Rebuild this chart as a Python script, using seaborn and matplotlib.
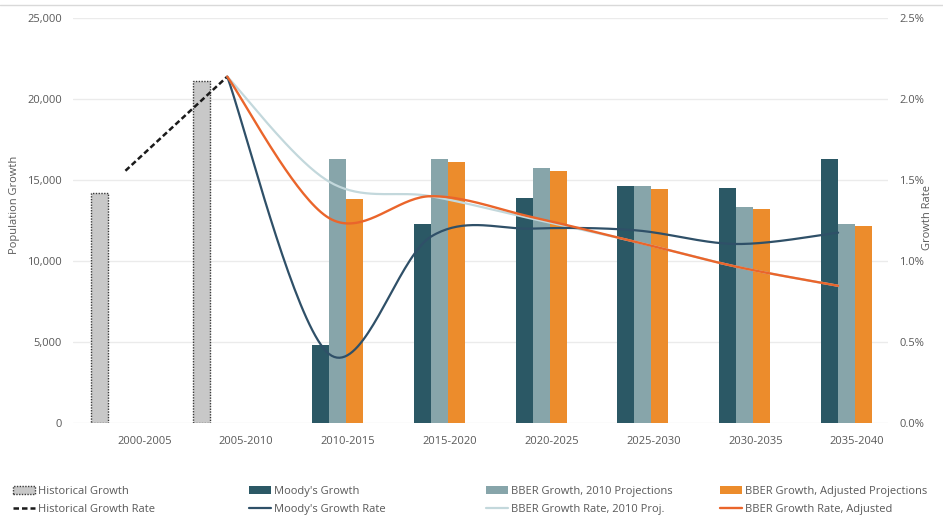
import numpy as np
import pandas as pd
import matplotlib
matplotlib.use("Agg")
import matplotlib.pyplot as plt
import matplotlib.transforms as mtransforms
from matplotlib.patches import Patch
from matplotlib.lines import Line2D
from matplotlib.ticker import FuncFormatter, MultipleLocator
import seaborn as sns

# ---------------- data ----------------
categories = ["2000-2005", "2005-2010", "2010-2015", "2015-2020",
              "2020-2025", "2025-2030", "2030-2035", "2035-2040"]
nan = np.nan
hist_growth = [14200, 21100, nan, nan, nan, nan, nan, nan]
moody_growth = [nan, nan, 4800, 12260, 13900, 14630, 14490, 16280]
bber2010_growth = [nan, nan, 16300, 16300, 15720, 14630, 13330, 12280]
bberadj_growth = [nan, nan, 13800, 16130, 15560, 14440, 13190, 12160]

hist_rate = [1.557, 2.138, nan, nan, nan, nan, nan, nan]
moody_rate = [nan, 2.138, 0.426, 1.15, 1.20, 1.19, 1.105, 1.175]
bber2010_rate = [nan, 2.138, 1.49, 1.40, 1.26, 1.12, 0.965, 0.847]
bberadj_rate = [nan, 2.138, 1.265, 1.40, 1.27, 1.12, 0.965, 0.847]

bar_series = ["Historical Growth", "Moody's Growth",
              "BBER Growth, 2010 Projections", "BBER Growth, Adjusted Projections"]
line_series = ["Historical Growth Rate", "Moody's Growth Rate",
               "BBER Growth Rate, 2010 Proj.", "BBER Growth Rate, Adjusted"]

# ---------------- styles ----------------
C_HIST = "#C8C8C8"
C_MOODY = "#2B5865"
C_BBER = "#87A5AA"
C_ADJ = "#EC8C2C"
L_MOODY = "#2F5068"
L_BBER = "#C3D8DC"
L_ADJ = "#EA652B"
TXT = "#595959"
GRID = "#EBEBEB"

sns.set_theme(style="white")
plt.rcParams["font.family"] = ["Open Sans", "DejaVu Sans"]

W, H = 943, 519
fig = plt.figure(figsize=(W / 100, H / 100), dpi=100)
L, R, T, B = 73, 888, 18, 423
ax = fig.add_axes([L / W, 1 - B / H, (R - L) / W, (B - T) / H])

# bars via seaborn
rows = []
for name, vals in zip(bar_series, [hist_growth, moody_growth, bber2010_growth, bberadj_growth]):
    for c, v in zip(categories, vals):
        if not np.isnan(v):
            rows.append({"Period": c, "Series": name, "Growth": v})
df = pd.DataFrame(rows)
palette = dict(zip(bar_series, [C_HIST, C_MOODY, C_BBER, C_ADJ]))
sns.barplot(data=df, x="Period", y="Growth", hue="Series", order=categories,
            hue_order=bar_series, palette=palette, width=0.668, dodge=True,
            errorbar=None, saturation=1, linewidth=0, legend=False, ax=ax)

# style historical bars
for p in ax.containers[0]:
    p.set_edgecolor("#3A3A3A")
    p.set_linestyle((0, (1, 1)))
    p.set_linewidth(1.0)

ax.set_xlim(-0.515, 7.49)
ax.set_ylim(0, 25000)
ax.yaxis.set_major_locator(MultipleLocator(5000))
ax.yaxis.set_major_formatter(FuncFormatter(lambda v, p: f"{int(v):,}"))
ax.grid(axis="y", color=GRID, lw=1)
ax.set_axisbelow(True)
for s in ax.spines.values():
    s.set_visible(False)
ax.tick_params(axis="both", length=0, labelsize=8, labelcolor=TXT)
ax.tick_params(axis="y", pad=8)
ax.tick_params(axis="x", pad=9)
ax.set_xlabel("")
ax.set_ylabel("")
offset = mtransforms.ScaledTranslation(19 / 100, 0, fig.dpi_scale_trans)
for lab in ax.get_xticklabels():
    lab.set_transform(lab.get_transform() + offset)

# secondary axis lines
ax2 = ax.twinx()
ax2.set_ylim(0, 2.5)
ax2.yaxis.set_major_locator(MultipleLocator(0.5))
ax2.yaxis.set_major_formatter(FuncFormatter(lambda v, p: f"{v:.1f}%"))
for s in ax2.spines.values():
    s.set_visible(False)
ax2.tick_params(axis="y", length=0, labelsize=8, labelcolor=TXT, pad=8)
ax2.set_ylabel("")


def smooth(xs, ys, n=40):
    pts = [(x, y) for x, y in zip(xs, ys) if not np.isnan(y)]
    P = np.array(pts, dtype=float)
    out = []
    for i in range(len(P) - 1):
        p0 = P[i - 1] if i > 0 else P[i]
        p1, p2 = P[i], P[i + 1]
        p3 = P[i + 2] if i + 2 < len(P) else P[i + 1]
        b1 = p1 + (p2 - p0) / 6.0
        b2 = p2 - (p3 - p1) / 6.0
        t = np.linspace(0, 1, n)[:, None]
        seg = ((1 - t) ** 3) * p1 + 3 * ((1 - t) ** 2) * t * b1 + 3 * (1 - t) * t ** 2 * b2 + t ** 3 * p2
        out.append(seg if i == 0 else seg[1:])
    A = np.vstack(out)
    return A[:, 0], A[:, 1]


xpos = np.arange(len(categories))
hx = [x for x, v in zip(xpos, hist_rate) if not np.isnan(v)]
hy = [v for v in hist_rate if not np.isnan(v)]
sns.lineplot(x=hx, y=hy, ax=ax2, color="#1A1A1A", lw=1.8, dashes=False)
ax2.lines[-1].set_dashes((2.2, 1.2))

for vals, col, lw in [(bber2010_rate, L_BBER, 1.6), (moody_rate, L_MOODY, 1.6), (bberadj_rate, L_ADJ, 1.7)]:
    sx, sy = smooth(xpos, vals)
    ax2.plot(sx, sy, color=col, lw=lw, solid_capstyle="round")
ax2.set_xlim(-0.515, 7.49)

# axis titles
fig.text(15 / W, 1 - 205 / H, "Population Growth", rotation=90, ha="center", va="center",
         fontsize=8, color=TXT)
fig.text(928 / W, 1 - 217 / H, "Growth Rate", rotation=90, ha="center", va="center",
         fontsize=8, color=TXT)

# top border line
fig.add_artist(Line2D([0, 1], [1 - 5 / H, 1 - 5 / H], transform=fig.transFigure,
                      color="#D9D9D9", lw=1))

# legends (4 columns)
bar_handles = [
    Patch(facecolor=C_HIST, edgecolor="#3A3A3A", linestyle=(0, (1, 1)), linewidth=1.0),
    Patch(facecolor=C_MOODY, edgecolor="none"),
    Patch(facecolor=C_BBER, edgecolor="none"),
    Patch(facecolor=C_ADJ, edgecolor="none"),
]
line_handles = [
    Line2D([], [], color="#1A1A1A", lw=1.8, dashes=(2.2, 1.2)),
    Line2D([], [], color=L_MOODY, lw=1.6),
    Line2D([], [], color=L_BBER, lw=1.6),
    Line2D([], [], color=L_ADJ, lw=1.7),
]
col_x = [13, 249, 486, 720]
for i in range(4):
    leg = fig.legend(handles=[bar_handles[i], line_handles[i]],
                     labels=[bar_series[i], line_series[i]],
                     loc="upper left", bbox_to_anchor=(col_x[i] / W, 1 - 486 / H),
                     frameon=False, fontsize=8, handlelength=2.0, handleheight=0.7,
                     handletextpad=0.25, labelspacing=0.6, borderpad=0, borderaxespad=0)
    for t in leg.get_texts():
        t.set_color(TXT)

fig.savefig("out.png", dpi=100)
